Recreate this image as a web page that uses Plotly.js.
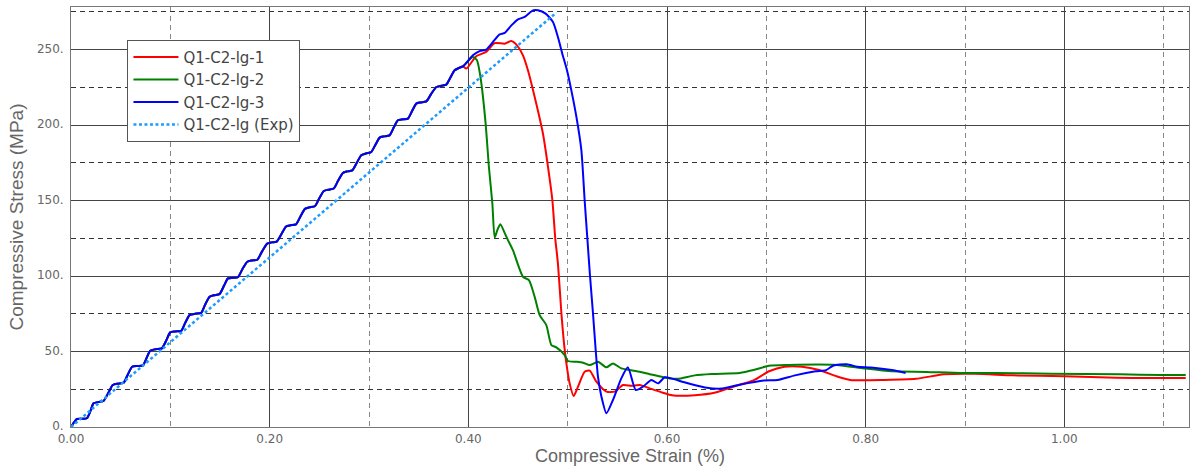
<!DOCTYPE html>
<html>
<head>
<meta charset="utf-8">
<script src="https://cdn.plot.ly/plotly-3.0.1.min.js"></script>
<style>html,body{margin:0;padding:0;background:#fff;}#chart{width:1192px;height:473px;}</style>
</head>
<body>
<div id="chart"></div>
<script>
// Shared stair-step loading branch (all three simulations overlap here)
const riseX = [0, 0.003, 0.006, 0.011, 0.016, 0.0195, 0.0227, 0.028, 0.0327, 0.0375, 0.042, 0.047, 0.053, 0.057, 0.0616,
  0.067, 0.0723, 0.076, 0.0797, 0.085, 0.0915, 0.096, 0.0999, 0.105, 0.111, 0.115, 0.1193, 0.125, 0.131, 0.135, 0.1395,
  0.144, 0.1495, 0.154, 0.158, 0.163, 0.168, 0.1725, 0.1775, 0.182, 0.1875, 0.1925, 0.1975, 0.202, 0.207, 0.212, 0.2165,
  0.221, 0.2265, 0.231, 0.2355, 0.24, 0.2455, 0.25, 0.2545, 0.259, 0.2645, 0.269, 0.2737, 0.278, 0.2832, 0.2877, 0.2922,
  0.297, 0.3023, 0.3065, 0.3107, 0.315, 0.3207, 0.325, 0.3291, 0.334, 0.3392, 0.3435, 0.3476, 0.352, 0.3577, 0.3625,
  0.3678, 0.373, 0.3778, 0.382, 0.3862, 0.3905, 0.3946];
const riseY = [0, 3, 5.3, 5.5, 5.8, 10.5, 15.7, 16.6, 17.2, 22.5, 27.8, 28.7, 29.3, 34.5, 39.9,
  40.4, 40.8, 45.5, 50.5, 51.5, 52.1, 57.5, 62.7, 63.3, 63.7, 69, 74.1, 75, 75.6, 81, 86.2,
  87.3, 88, 93.5, 98.4, 98.8, 99.2, 104.5, 109.5, 110.3, 110.8, 116.5, 121.5, 122.3, 122.8, 128, 132.8,
  133.6, 134.2, 139.5, 144.5, 145.5, 146.2, 151.5, 156.3, 157.2, 158, 163.3, 168.3, 169.3, 170, 175, 180,
  181.2, 182.2, 187, 191.7, 192.5, 193.2, 198.5, 203.2, 203.8, 204.3, 209.5, 214.2, 215, 215.7, 220.5,
  225.2, 226.1, 226.8, 231.5, 236.3, 237.8, 238.9];

// Q1-C2-lg-1 (red) after the shared branch
const red1X = [0.398, 0.408, 0.418, 0.4265, 0.4366, 0.4433, 0.449, 0.455, 0.46, 0.4668, 0.4751, 0.4802, 0.4846, 0.4875,
  0.4902, 0.4937, 0.496, 0.4987, 0.502, 0.506, 0.5104, 0.5171, 0.5222, 0.5289, 0.539, 0.5473, 0.5557, 0.5641, 0.5725,
  0.5826, 0.596, 0.605, 0.628, 0.6487, 0.6696, 0.687, 0.7027, 0.7183, 0.7358, 0.7532, 0.7706, 0.7845, 0.8193, 0.8506,
  0.8785, 0.9098, 0.9481, 1.0003, 1.0524, 1.1222];
const red1Y = [237.4, 245.6, 248.5, 254.3, 253.9, 255.7, 252.8, 246.2, 236.3, 218.6, 194.4, 172.3, 150.2, 125,
  108.3, 75.2, 57.6, 42.1, 28.9, 20.5, 26.7, 36.6, 37.3, 30, 23.4, 23.4, 27.8, 27.3, 27.8,
  25.6, 22.7, 21, 21, 22.8, 27.3, 30.8, 36.9, 39.9, 39.9, 37.7, 33.6, 31.2, 31.2, 31.9,
  34.9, 35.3, 34.2, 33.6, 32.6, 32.4];

// Q1-C2-lg-2 (green) after the shared branch
const green2X = [0.4046, 0.4087, 0.4125, 0.4174, 0.4207, 0.4242, 0.4265, 0.4292, 0.4322, 0.4376, 0.4399, 0.4449, 0.455,
  0.461, 0.4668, 0.4718, 0.4785, 0.4836, 0.4886, 0.497, 0.5003, 0.5088, 0.5154, 0.5222, 0.5305, 0.539, 0.5456, 0.554,
  0.5624, 0.5725, 0.5826, 0.591, 0.6, 0.6105, 0.6279, 0.6452, 0.6731, 0.687, 0.7027, 0.7218, 0.7706, 0.7984, 0.8263,
  0.861, 0.8959, 0.9307, 0.9864, 1.0559, 1.0978, 1.1222];
const green2Y = [245, 242.9, 230.5, 201, 172.3, 148, 125.5, 130.4, 134.3, 127, 123.8, 117.1, 99.5,
  97.3, 86.2, 74.1, 67.5, 54.3, 52.7, 47.6, 43.7, 43.2, 42.6, 41, 43.2, 39.5, 42.1, 38.8,
  37.7, 36.6, 35, 33.8, 32.5, 31.9, 34.2, 35.1, 35.8, 37.7, 40.6, 41.1, 41.1, 38.8, 36.9,
  36.5, 35.8, 35.8, 35.3, 34.9, 34.4, 34.4];

// Q1-C2-lg-3 (blue) after the shared branch
const blue3X = [0.4046, 0.4114, 0.4181, 0.4248, 0.4315, 0.4366, 0.4433, 0.45, 0.4567, 0.465, 0.4701, 0.4778, 0.4852,
  0.4902, 0.4946, 0.4993, 0.5037, 0.5088, 0.5138, 0.5171, 0.5198, 0.5225, 0.5255, 0.5282, 0.5305, 0.534, 0.539, 0.5456,
  0.554, 0.5607, 0.5685, 0.5758, 0.5843, 0.591, 0.5977, 0.6044, 0.6174, 0.6383, 0.6557, 0.6731, 0.6975, 0.7114, 0.7288,
  0.7497, 0.7601, 0.7671, 0.781, 0.7914, 0.8053, 0.8263, 0.8402];
const blue3Y = [246.2, 249, 250, 255, 260.1, 261, 266, 270, 271.6, 276, 276, 273.8, 268.3,
  258.3, 247.3, 236.3, 223, 205.4, 183.3, 150.2, 125, 100, 75.2, 51, 33.3, 20.1, 9.1, 17.9,
  32.2, 39.5, 24.5, 26.7, 31.1, 28.9, 32.9, 32.2, 29.6, 26.2, 25.5, 28, 30.8, 31.2, 34.2,
  36.9, 37.7, 40.6, 41.6, 39.9, 39.4, 37.7, 35.8];

// Q1-C2-lg (Exp) linear fit
const expX = [0, 0.4886];
const expY = [0, 274.5];

const seriesNames = ['Q1-C2-lg-1', 'Q1-C2-lg-2', 'Q1-C2-lg-3', 'Q1-C2-lg (Exp)'];
const xTickVals = [0, 0.2, 0.4, 0.6, 0.8, 1.0];
const xTickText = ['0.00', '0.20', '0.40', '0.60', '0.80', '1.00'];
const yTickVals = [0, 50, 100, 150, 200, 250];
const yTickText = ['0.', '50.', '100.', '150.', '200.', '250.'];

const traces = [
  {x: riseX.concat(red1X), y: riseY.concat(red1Y), name: seriesNames[0], mode: 'lines',
   line: {color: '#ff0000', width: 2, shape: 'spline', smoothing: 0.6}},
  {x: riseX.concat(green2X), y: riseY.concat(green2Y), name: seriesNames[1], mode: 'lines',
   line: {color: '#008000', width: 2, shape: 'spline', smoothing: 0.6}},
  {x: riseX.concat(blue3X), y: riseY.concat(blue3Y), name: seriesNames[2], mode: 'lines',
   line: {color: '#0000ff', width: 2, shape: 'spline', smoothing: 0.6}},
  {x: expX, y: expY, name: seriesNames[3], mode: 'lines',
   line: {color: '#1e9bff', width: 2.5, dash: '3px,2.5px'}}
];

const layout = {
  width: 1192, height: 473,
  margin: {l: 71, r: 3, t: 7, b: 46},
  paper_bgcolor: '#ffffff', plot_bgcolor: '#ffffff',
  font: {family: 'DejaVu Sans, sans-serif', color: '#666'},
  showlegend: true,
  legend: {
    x: 0.0505, y: 0.922, xanchor: 'left', yanchor: 'top',
    bgcolor: '#ffffff', bordercolor: '#555', borderwidth: 1,
    font: {family: 'DejaVu Sans, sans-serif', size: 15, color: '#444'},
    itemwidth: 45
  },
  xaxis: {
    range: [0, 1.1255], tickvals: xTickVals, ticktext: xTickText,
    showgrid: true, gridcolor: '#444', gridwidth: 1,
    minor: {dtick: 0.1, tick0: 0, showgrid: true, gridcolor: '#888', griddash: '5px,4px', gridwidth: 1},
    zeroline: false, showline: true, mirror: true, linecolor: '#777', linewidth: 1,
    ticks: '', ticklabelstandoff: 1, tickfont: {family: 'DejaVu Sans, sans-serif', size: 12, color: '#666'},
    title: {text: 'Compressive Strain (%)', font: {family: 'Liberation Sans, Arial, sans-serif', size: 18, color: '#666'}, standoff: 3}
  },
  yaxis: {
    range: [0, 278.2], tickvals: yTickVals, ticktext: yTickText,
    showgrid: true, gridcolor: '#444', gridwidth: 1,
    minor: {dtick: 25, tick0: 0, showgrid: true, gridcolor: '#333', griddash: '5px,4px', gridwidth: 1},
    zeroline: false, showline: true, mirror: true, linecolor: '#777', linewidth: 1,
    ticks: '', ticklabelstandoff: 4, ticklabelshift: -1, tickfont: {family: 'DejaVu Sans, sans-serif', size: 12, color: '#666'},
    title: {text: 'Compressive Stress (MPa)', font: {family: 'Liberation Sans, Arial, sans-serif', size: 19, color: '#666'}, standoff: 8}
  }
};

Plotly.newPlot('chart', traces, layout, {displayModeBar: false, staticPlot: true});
</script>
</body>
</html>
